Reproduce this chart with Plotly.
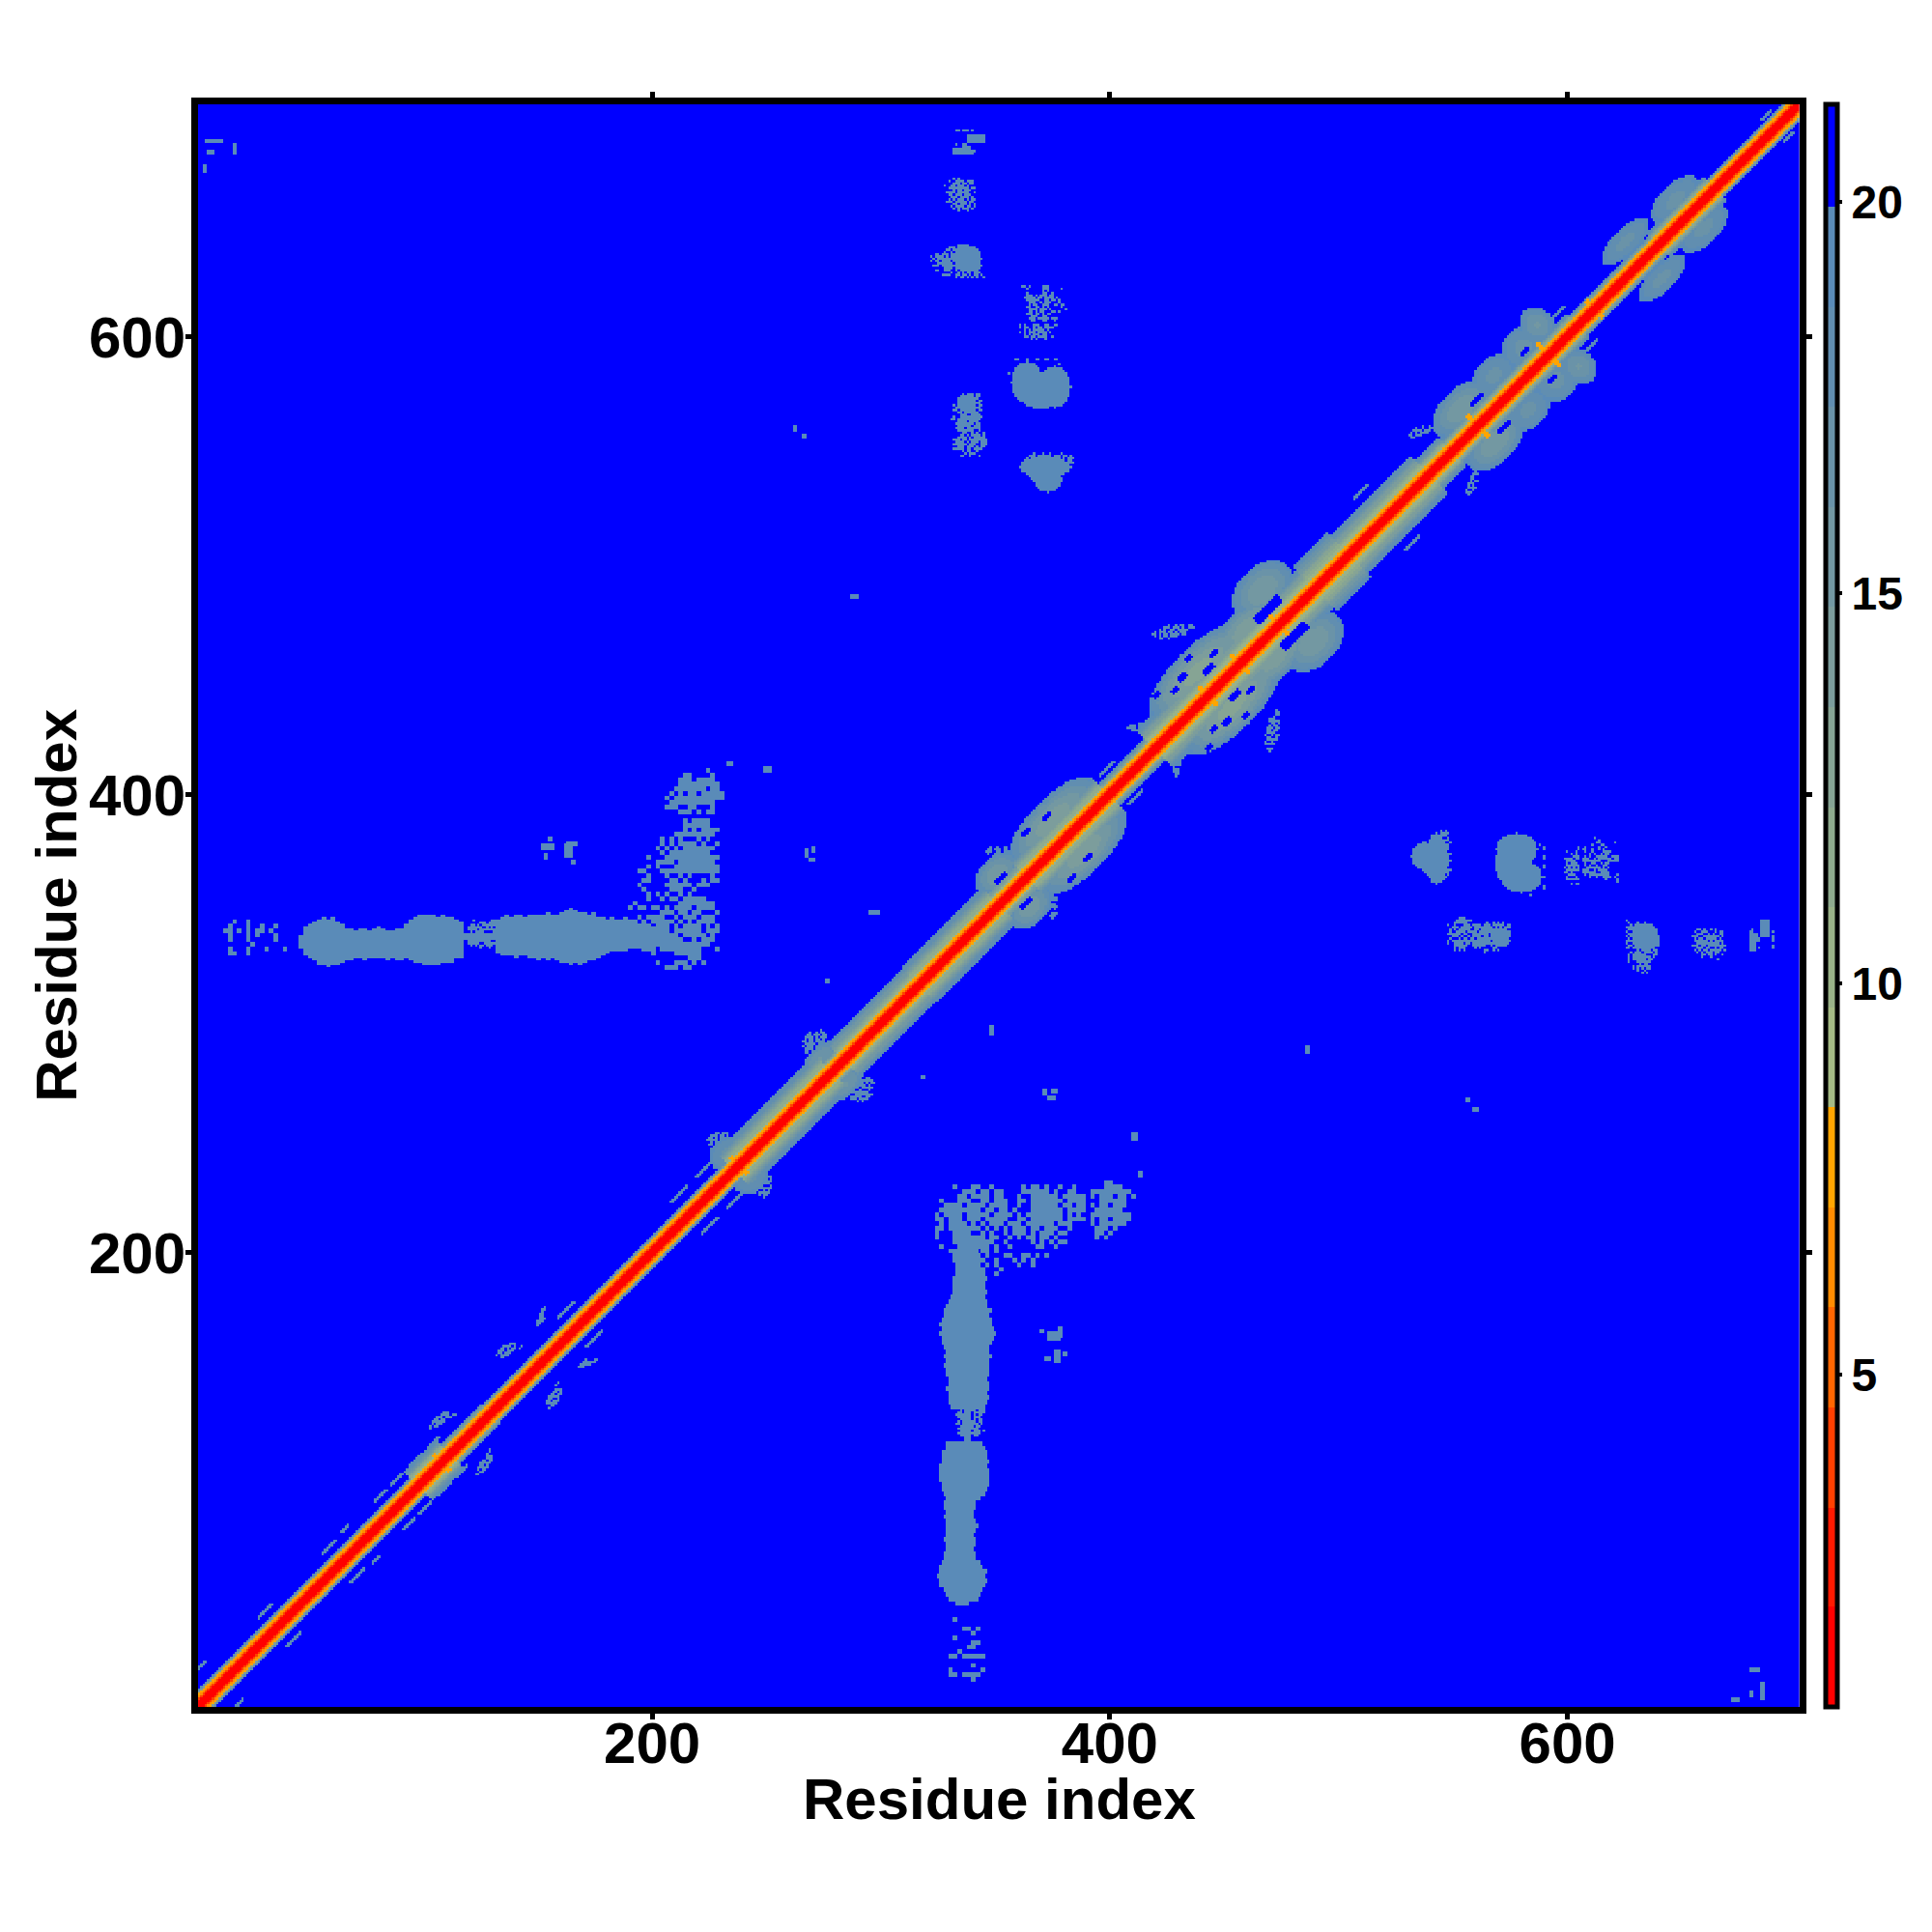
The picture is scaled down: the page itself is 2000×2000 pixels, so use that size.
import numpy as np
import plotly.graph_objects as go

N_RES = 701
AX_RANGE = [1.5, 701.5]
TICKS = [200, 400, 600]
CB_TICKS = [5, 10, 15, 20]
AXIS_TITLE = "Residue index"
Z_MIN, Z_MAX = 0.75, 21.25
BACKGROUND = 21.0

LEVELS = [0.75, 2.03, 3.3, 4.58, 5.86, 7.14, 8.42, 9.7, 10.98, 12.26, 13.54, 14.82, 16.1, 17.38, 18.66, 19.94, 21.25]
LEVEL_COLORS = ["#ff0000", "#ff1a00", "#ff4000", "#ff6600", "#ff8c00", "#ffa500",
                "#a5bb85", "#9ab388", "#8fab8e", "#86a494", "#7c9d9c", "#7398a2",
                "#6a93a8", "#618eb0", "#5a8bb8", "#0000ff"]

# value by distance from the diagonal, in the core of the band
CORE_VALUES = [1.2, 1.4, 1.8, 4.0, 6.5, 7.8]
# band half-width per stretch of the diagonal
BAND_M = [0, 30, 98, 112, 130, 236, 279, 284, 317, 352, 364, 400, 420, 462, 490, 505, 540, 550, 605, 640, 665]
BAND_W = [7, 7, 12, 8, 7, 15, 9, 14, 15, 11, 15, 9, 16, 16, 19, 16, 12, 10, 8, 10, 7]

# blobs beside the diagonal: m0, m1, d0, d1, inner value
DIAG_BLOBS = [
    (232, 244, 0, 20, 17), (272, 286, 4, 18, 16), (350, 366, 4, 25, 15),
    (364, 400, 0, 27, 14), (426, 466, 0, 30, 13), (452, 480, 0, 25, 14),
    (467, 489, 8, 37, 15), (550, 572, 2, 27, 15), (568, 583, 4, 26, 17),
    (581, 595, 2, 27, 17), (591, 601, 6, 30, 16), (624, 643, 8, 24, 17),
    (644, 663, 3, 22, 17),
]
# gaps cut out of those blobs: m0, m1, d0, d1
DIAG_HOLES = [
    (470, 480, 9, 14), (440, 443, 18, 21), (447, 451, 10, 13), (564, 569, 11, 13),
    (356, 360, 10, 12), (380, 383, 17, 19), (586, 589, 11, 13),
    (452, 455, 15, 17), (436, 438, 16, 18), (431, 433, 22, 24),
    (446, 448, 24, 26), (372, 375, 19, 21),
]
# thin streaks parallel to the diagonal: m0, m1, d
DIAG_STREAKS = [
    (85, 90, 12), (92, 97, 12), (100, 106, 12), (108, 113, 12), (165, 172, 12), (62, 68, 12),
    (71, 74, 13), (34, 40, 12), (5, 13, 16), (215, 222, 13), (226, 232, 13), (402, 408, 12),
    (518, 524, 22), (600, 606, 14), (690, 694, 9),
]
# orange arms crossing the diagonal: m, reach
ARMS = [(443, 8), (457, 8), (474, 8), (561, 9), (592, 10), (612, 7), (108, 7), (238, 7)]

# long contact bar: x start of each 2-residue column, low and high edge
BAR_X = list(range(46, 208, 2))
BAR_LO = [333, 330, 329, 328, 326, 326, 325, 326, 326, 327, 328, 328, 329, 329, 328, 329, 329, 329, 329, 328,
          329, 328, 328, 329, 328, 327, 327, 326, 326, 326, 326, 327, 327, 327, 329, 329, 337, 337, 337, 337,
          337, 337, 337, 331, 330, 330, 330, 329, 330, 330, 329, 329, 328, 329, 328, 329, 328, 327, 327, 326,
          327, 326, 327, 328, 328, 329, 330, 331, 332, 332, 332, 332, 333, 333, 333, 334, 333, 334, 334, 333, 334]
BAR_HI = [338, 342, 343, 344, 345, 346, 345, 346, 344, 343, 341, 341, 340, 341, 341, 340, 341, 342, 341, 340,
          340, 341, 341, 343, 345, 346, 347, 347, 347, 347, 346, 347, 346, 346, 345, 344, 339, 339, 339, 339,
          339, 339, 339, 345, 346, 347, 346, 347, 347, 346, 347, 347, 347, 347, 348, 347, 347, 348, 349, 350,
          349, 348, 348, 347, 348, 346, 346, 345, 346, 345, 345, 346, 345, 345, 343, 343, 343, 342, 342, 343, 342]

# solid far contacts: x centre, y centre, half-width, half-height
FAR_OVALS = [
    (338, 634, 6, 6), (364, 580, 7, 9), (376, 578, 7, 9), (370, 574, 9, 5.5),
    (372, 543, 11, 5), (373, 537, 6, 5),
]

# speckled far contacts: x0, y of top row, cell size, rows
SPECK_BLOCK = (321.5, 231, 2, [
    "                                      ##     ",
    "     #   ##  #      # ## #  #  #      ####   ",
    "       ### ## ##    ###### #  ##   ######### ",
    "      ## #### ##   #  ###### ##### # ### ## #",
    "  #   ###  ## ###  ## ####### ####   ######  ",
    "   #### #### ####  #  ###### ## ## # ## ###  ",
    "  ######### ## ## #   ####### ####  ######   ",
    " # #### ##### #### # ######## # #  #########",
    " ## ### ### #####  ## ####### #### # ## #### ",
    "  # #### # # ### ### ###### ###    # ######  ",
    " ## ####### # # # ### ## ###  #     ### #    ",
    " #   ####  # #  # ### # ### ##      ## #     ",
    " #   ####### ##  # # ## ## #        # #      ",
    "     #########  #     # # # ##               ",
    "  #   ####### #  #     ##  #                 ",
    "    ###### ## #                              ",
    "     ###### #   ##  ## # #                   ",
    "     ####  #  #   # # #                      ",
    "      ##### # #    #  #                      ",
    "      ### ##   #                             ",
    "       #####  #                              ",
])
SPECK_NECK = (333, 131, 1, [
    "  # ## ## ###",
    " ## ### #####",
    "#### ## # ## ",
    " ### ## ###  ",
    "  ##### # ## ",
    " # ### ## ## ",
    "## ####### # ",
    "  ## ### ##  ",
    " ##### ###   ",
    "  ## ## ### #",
    " ### # ####  ",
    "  ##### ##   ",
])
SPECK_FAINT = (11, 345, 2, [
    "   #  #        ",
    "  #   #  #  #  ",
    " ## # # ## #   ",
    "  #   # #   #  ",
    "  #   #     #  ",
    "       #       ",
    "  #   #   #   #",
    "  ##  #        ",
])
SPECK_A = (331, 690, 1, [
    "  ## ### #   ",
    "             ",
    "             ",
    "             ",
    "             ",
    "        #    ",
    "  #  ##      ",
    "     ####    ",
    " ########    ",
    " ##########  ",
    " #########   ",
])
SPECK_B = (327, 669, 1, [
    "     # #        ",
    "   #  #### ###  ",
    "     ### ## ##  ",
    " #  ## ### #    ",
    "   ######### ## ",
    "     # ## ###   ",
    "  #### #####  # ",
    "   ## ### ###   ",
    "    ### #### #  ",
    "   # # ### # ## ",
    "  ### ##### ##  ",
    "     ## ### # # ",
    "    # #### ## # ",
    "     # # ### #  ",
    "       #   #    ",
])
SPECK_C = (322, 640, 1, [
    "            ####        ",
    "        ### ## #  #     ",
    "       ## ##### ###     ",
    "      #  # #### ##  #   ",
    "  ## ### ##### ### ##   ",
    "# #### # ###### ## ###  ",
    " # ####### ## ###   #   ",
    "# ## #### # # ##   ##   ",
    "   #######  ### # ## #  ",
    " ### ######## ## #### # ",
    "      #### # # ### # #  ",
    "  ##  ###  # ## ## ##   ",
    "         #  # # ## ###  ",
    "     ####  ## ## # ## # ",
    "           # ## # # #  #",
])
SPECK_D = (360, 622, 1, [
    "  ## #     ###        ",
    "    #      ###     #  ",
    "           # #        ",
    "    #      ##  #      ",
    "    ### # ### ##      ",
    "   ##### ## #### #    ",
    "    ######  ## ## #   ",
    "     ###  # ###   #   ",
    "     # ##  ###  ## ## ",
    "    ##  ## # #     #  ",
    "     #### ### #      #",
    "     ## # ##   ## #   ",
    "    ### ## # ##       ",
    "      ###  ##         ",
    "     ### ##### ###    ",
    "      ##   ##   #     ",
    "                      ",
    " # #   ###  ##  ##    ",
    " # ##  # ## ####      ",
    "   # # ##### #        ",
    " # # ### #### #       ",
    "   # # ### ##         ",
    "   ## ## ####  #      ",
    "      # #   #         ",
])
SPECK_FG = (330, 575, 1, [
    "      # ### ##   ",
    "     ###### ##   ",
    "    #########    ",
    "    ######## ##  ",
    "    ##########   ",
    "  # ######## ##  ",
    "   ###########   ",
    "  ## ####### ##  ",
    "    ## ######    ",
    "     ###  ####   ",
    "  #  ##########  ",
    " ## ##########   ",
    "    #### ####    ",
    "   ######## ##   ",
    "    ###### ###   ",
    "   #### ######   ",
    "    #######  #   ",
    "      ##  # #  # ",
    "     ## # #### # ",
    "    #### # ##### ",
    "  ### ## ########",
    "   #### # ### ###",
    "  ###### ###  ###",
    "    ### ### # ## ",
    "  ##### ## ####  ",
    "      # ##  #    ",
    "       # ###     ",
    "     ##  #   #   ",
])
SPECK_H = (361, 549, 1, [
    "      #   #  #    #     ",
    "    ### ###### ### ## # ",
    "   # ##  ##  ## ## # ###",
    "  ##                 ## ",
    "                      ##",
    "                     #  ",
    "                        ",
    "                        ",
    "     ## #  ## # ##      ",
    "     ###  ### # # #     ",
    "    # ## ###  ## #      ",
    "     ##   ## ##   #     ",
    "       ### ###          ",
    "            #           ",
])
SPECK_E = (355, 590, 1, [
    "    ##   #   ##  ##  ##  ",
    "                         ",
    "                       # ",
    "                         ",
    "                        #",
    "                       # ",
    " #                       ",
    "                      ## ",
    "                         ",
    "                         ",
    "                         ",
    "                         ",
    "                         ",
    "                         ",
    "                      #  ",
    "                         ",
    "                     ##  ",
    "             # #         ",
    "              ##  #      ",
])
SPECK_P1 = (101, 130, 1, [
    "        ###     ",
    "       #### ##  ",
    "     ### ###    ",
    "    ## ##       ",
    "   ######       ",
    "   # ###        ",
    "  # ##          ",
    "  #             ",
])
SPECK_P2 = (130, 160, 1, [
    "        ###  ",
    "     #### #  #",
    "    ## # ## # ",
    "   ### ###    ",
    "   ## ###     ",
    "  # ####      ",
    "    ##        ",
])
SPECK_P3 = (149, 176, 1, [
    "    # ",
    "   ## ",
    "   #  ",
    "  ##  ",
    "  ##  ",
    "  ### ",
    " ###  ",
    " ##   ",
    " #    ",
])
SPECK_NEAR1 = (418, 474, 1, [
    "        #  # ##  ##    ",
    "      ### ### #  ###   ",
    "    # #  ## #####      ",
    "  # ### ## # ###       ",
    " ## # ## #### ##       ",
    "  # # ## ###           ",
    "    ##  #              ",
])
SPECK_NEAR2 = (407, 432, 1, [
    "            ## ",
    "      ##  ###  ",
    "  ### ### ##   ",
    " #### ##       ",
    "   ##          ",
])
SPECK_NEAR3 = (531, 561, 1, [
    "      #  #  ",
    "   #  #  ## ",
    "  #### ###  ",
    " # # ####   ",
    "## ###      ",
    " ##         ",
])
SPECK_NEAR4 = (262, 297, 1, [
    "            #    ",
    "       #  # ##   ",
    "      ## ### ## ",
    "     #### # ###  ",
    "     # ## ## #   ",
    "    ## ## ####   ",
    "     ##### ##    ",
    "    # ### ###    ",
    "     #### ##     ",
    "     ## ####     ",
    "     ## ###      ",
])
SPECK_NEAR5 = (222, 252, 1, [
    "      ## ###   ",
    "    ### ## #   ",
    "   ## # ###    ",
    "  ##### ##     ",
    "    #  ##      ",
    "   ## ##       ",
])
SPECK_NEAR6 = (343, 377, 1, [
    "     #  #  ##     ",
    "    ## ### ## #   ",
    "   ###  ## ###    ",
    "    #  ## ###     ",
])
SPECKLES = [SPECK_BLOCK, SPECK_NECK, SPECK_FAINT, SPECK_A, SPECK_B, SPECK_C, SPECK_D, SPECK_FG,
            SPECK_H, SPECK_E, SPECK_P1, SPECK_P2, SPECK_P3, SPECK_NEAR1, SPECK_NEAR2, SPECK_NEAR3,
            SPECK_NEAR4, SPECK_NEAR5, SPECK_NEAR6]
# isolated small contacts: x0, x1, y0, y1
SMALL_BITS = [
    (262, 263, 559, 561), (266, 267, 556, 557), (287, 290, 486, 487), (233, 235, 413, 414),
    (270, 271, 375, 377), (152, 157, 376, 378), (153, 154, 372, 374), (155, 156, 380, 381),
    (373, 378, 162, 165), (370, 371, 165, 166), (378, 379, 163, 167), (318, 319, 276, 277),
    (5, 12, 685, 686), (17, 18, 680, 684), (680, 681, 6, 8), (672, 675, 4, 5),
    (371, 372, 269, 271), (373, 376, 267, 268), (338, 345, 685, 688), (410, 412, 249, 252),
    (348, 349, 295, 299),
]
VALUE_FAR = 19.0

ids = np.arange(1, N_RES + 1)
X, Y = np.meshgrid(ids, ids)
D = np.abs(Y - X)
M = (X + Y) / 2.0
z = np.full((N_RES, N_RES), BACKGROUND)

core_n = len(CORE_VALUES)
w = np.array(BAND_W)[np.searchsorted(BAND_M, M, side="right") - 1].astype(float)
ramp = 9.0 + 10.5 * (D - core_n + 1) / (w - core_n + 1)
z = np.where((D >= core_n) & (D <= w), ramp, z)

for m0, m1, d0, d1, v in DIAG_BLOBS:
    mc, hm, dc, hd = (m0 + m1) / 2, (m1 - m0) / 2, (d0 + d1) / 2, (d1 - d0) / 2
    t = np.sqrt(((M - mc) / hm) ** 2 + ((D - dc) / hd) ** 2)
    z = np.where(t <= 1, np.minimum(z, v + (19.5 - v) * t ** 2), z)
for m0, m1, d0, d1 in DIAG_HOLES:
    z[(M >= m0) & (M <= m1) & (D >= d0) & (D <= d1)] = BACKGROUND
for m0, m1, d in DIAG_STREAKS:
    z[(M >= m0) & (M <= m1) & (D >= d) & (D <= d + 1)] = VALUE_FAR
for m, reach in ARMS:
    z[(np.abs(M - m) <= 0.5) & (D >= core_n - 1) & (D <= reach)] = 7.6

for bx, lo, hi in zip(BAR_X, BAR_LO, BAR_HI):
    z[lo - 1:hi, bx - 1:bx + 1] = VALUE_FAR
for xc, yc, rx, ry in FAR_OVALS:
    mask = ((X - xc) / rx) ** 2 + ((Y - yc) / ry) ** 2 <= 1
    z[mask] = VALUE_FAR
for x0, ytop, cell, rows in SPECKLES:
    for r, row in enumerate(rows):
        for c, ch in enumerate(row):
            if ch == "#":
                xa, ya = int(round(x0 + c * cell)), int(round(ytop - r * cell))
                z[max(ya - cell, 0):ya, max(xa - 1, 0):xa - 1 + cell] = np.minimum(
                    z[max(ya - cell, 0):ya, max(xa - 1, 0):xa - 1 + cell], VALUE_FAR)
for x0, x1, y0, y1 in SMALL_BITS:
    z[y0 - 1:y1, x0 - 1:x1] = VALUE_FAR

z = np.minimum(z, z.T)
for k, v in enumerate(CORE_VALUES):
    z[D == k] = v
z = np.round(z, 2)

span = Z_MAX - Z_MIN
colorscale = []
for i, col in enumerate(LEVEL_COLORS):
    colorscale.append([(LEVELS[i] - Z_MIN) / span, col])
    colorscale.append([(LEVELS[i + 1] - Z_MIN) / span, col])
colorscale[-1][0] = 1.0

L, R, T, B = 197, 145, 100, 241
PW, PH = 2000 - L - R, 2000 - T - B
font_base = dict(family="Liberation Sans", color="black", weight="bold")

fig = go.Figure(go.Heatmap(
    x=ids, y=ids, z=z, zmin=Z_MIN, zmax=Z_MAX, colorscale=colorscale, zsmooth=False,
    hoverinfo="skip",
    colorbar=dict(
        x=(1882 - L) / PW, xanchor="left", xpad=0, ypad=0, y=0.5, yanchor="middle",
        lenmode="pixels", len=PH, thicknessmode="pixels", thickness=12,
        outlinewidth=5, outlinecolor="black", borderwidth=0,
        tickmode="array", tickvals=CB_TICKS, ticktext=[str(v) for v in CB_TICKS],
        ticks="outside", ticklen=3, tickwidth=4, tickcolor="black",
        tickfont=dict(size=48, **font_base),
    ),
))
axis = dict(
    range=AX_RANGE, tickmode="array", tickvals=TICKS, ticktext=[str(v) for v in TICKS],
    ticks="outside", ticklen=6, tickwidth=5, tickcolor="black",
    showline=True, linewidth=7, linecolor="black", mirror="ticks",
    showgrid=False, zeroline=False, tickfont=dict(size=60, **font_base),
)
fig.update_xaxes(**axis, ticklabelstandoff=-27)
fig.update_yaxes(**axis, ticklabelstandoff=-12)
fig.update_layout(
    width=2000, height=2000, autosize=False, paper_bgcolor="white", plot_bgcolor="white",
    margin=dict(l=L, r=R, t=T, b=B, pad=0), showlegend=False,
    annotations=[
        dict(text=AXIS_TITLE, xref="paper", yref="paper", x=0.5, y=-0.0573, xanchor="center",
             yanchor="middle", showarrow=False, font=dict(size=60, **font_base)),
        dict(text=AXIS_TITLE, xref="paper", yref="paper", x=-0.0885, y=0.5, xanchor="center",
             yanchor="middle", textangle=-90, showarrow=False, font=dict(size=60, **font_base)),
    ],
)
fig.write_html("out.html")
